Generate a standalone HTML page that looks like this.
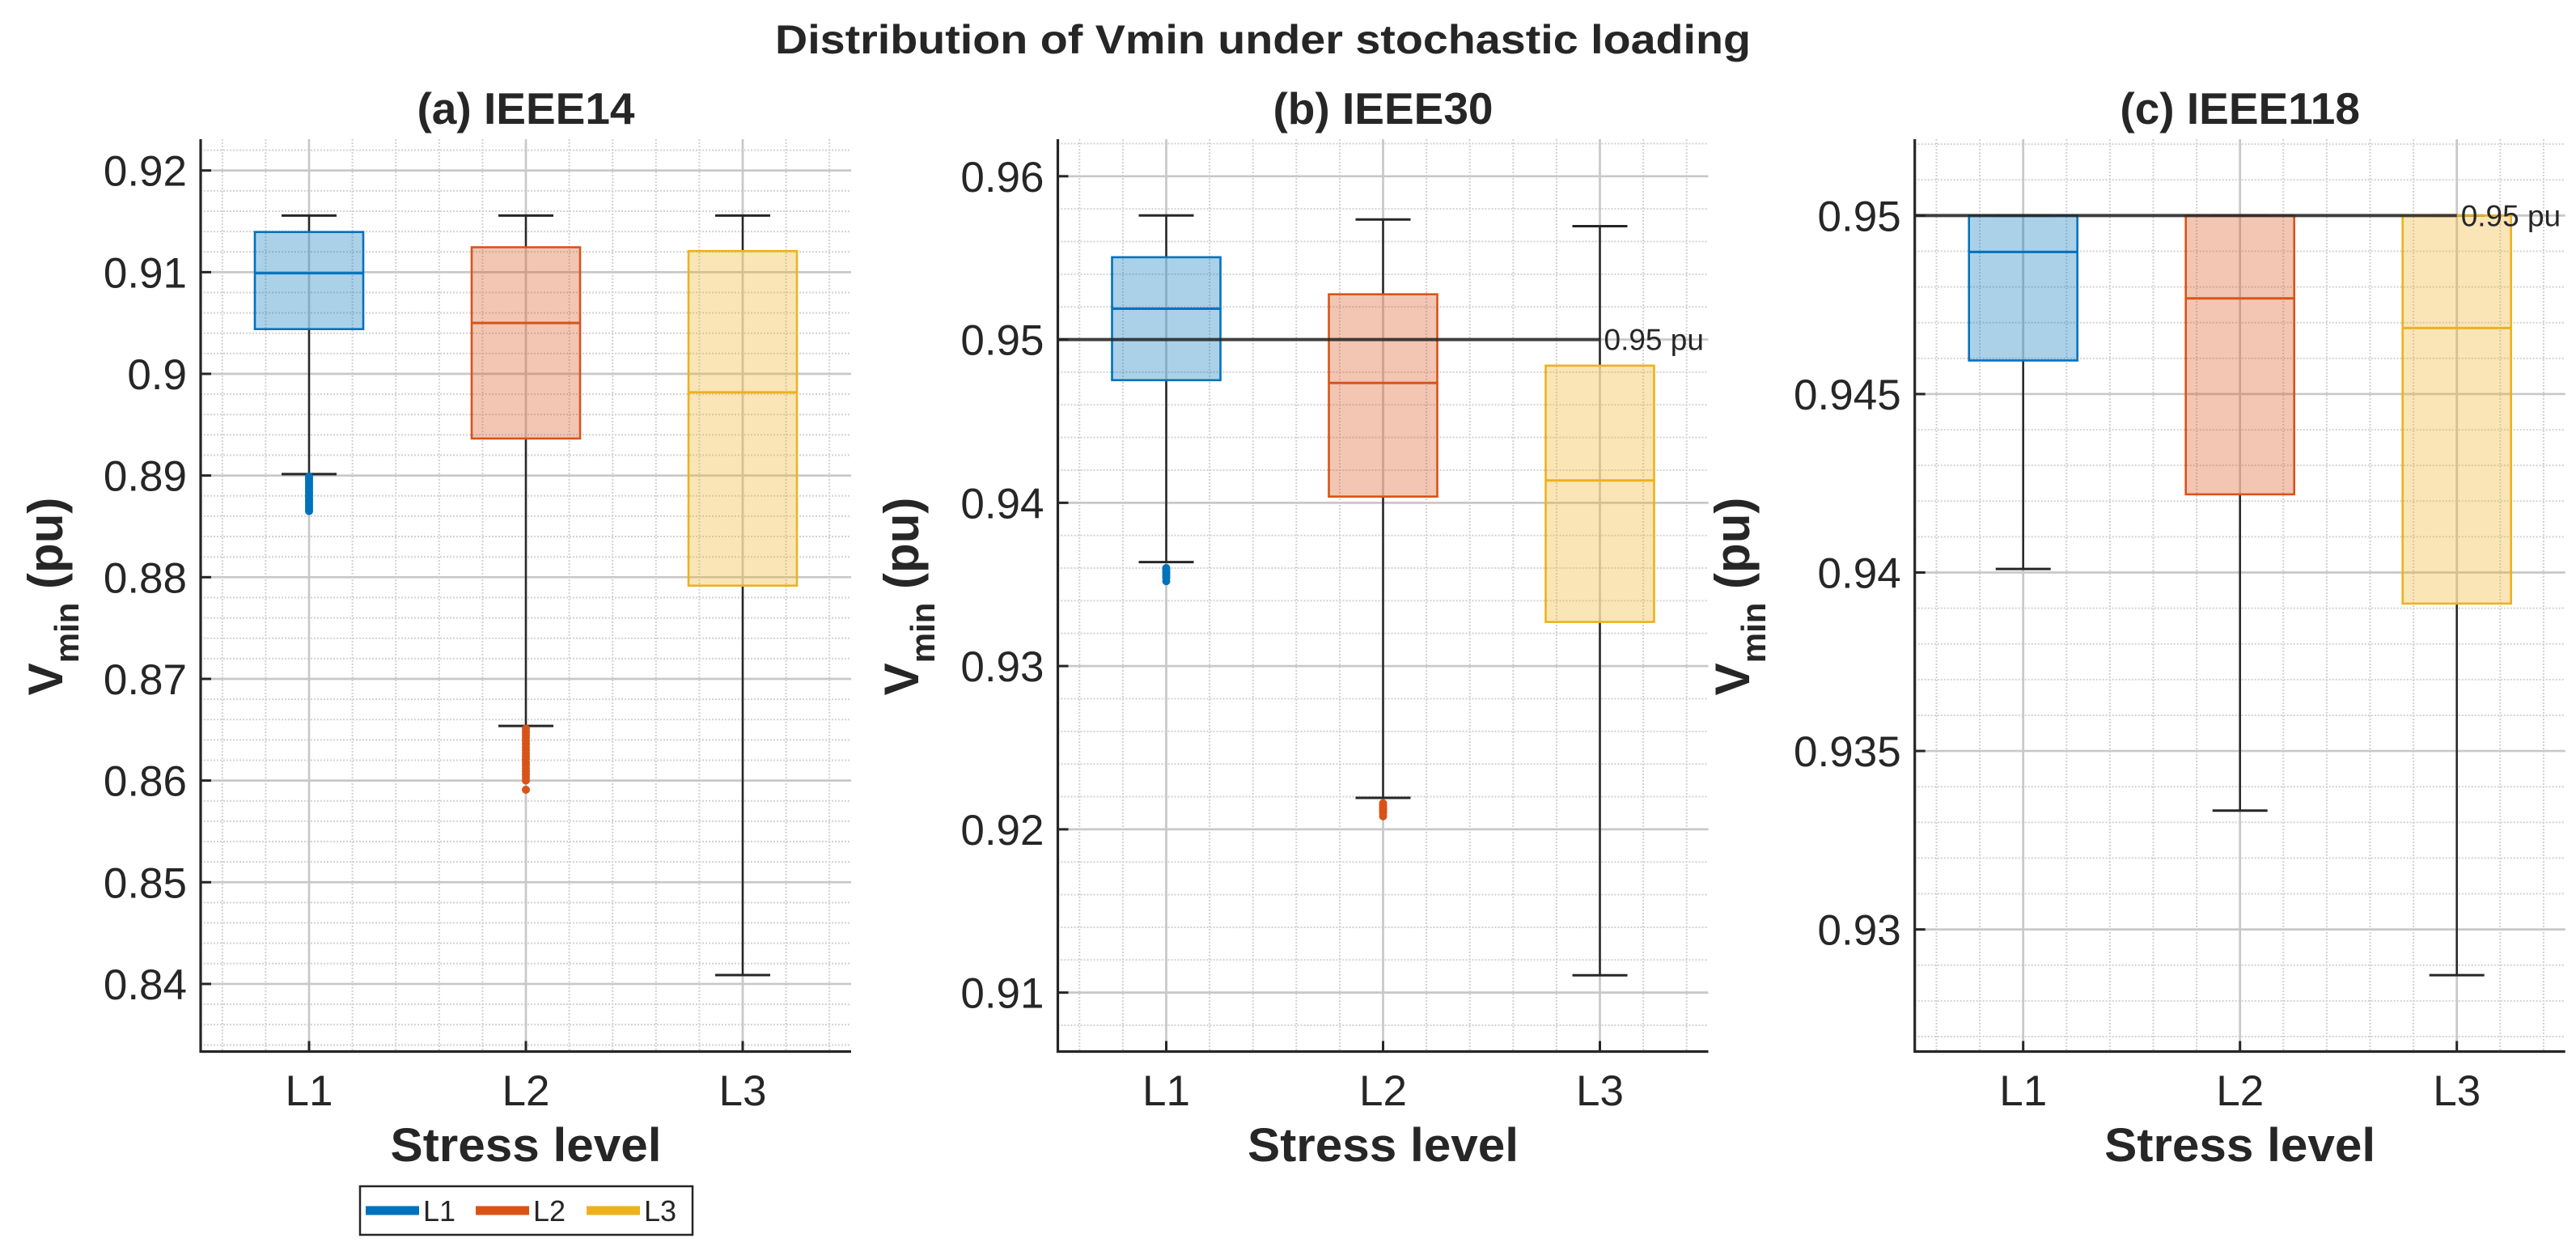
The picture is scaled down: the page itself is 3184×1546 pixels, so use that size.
<!DOCTYPE html>
<html><head><meta charset="utf-8"><style>
html,body{margin:0;padding:0;background:#fff}
svg{display:block}
text{font-family:"Liberation Sans",Arial,sans-serif;fill:#262626}
</style></head><body>
<svg id="fig" width="3184" height="1546" viewBox="0 0 3184 1546" xmlns="http://www.w3.org/2000/svg">
<text x="1561" y="66" font-size="50" font-weight="bold" text-anchor="middle" textLength="1206" lengthAdjust="spacingAndGlyphs">Distribution of Vmin under stochastic loading</text>
<g id="panels"></g>
<g>
<rect x="445" y="1466" width="411" height="60" fill="#fff" stroke="#262626" stroke-width="2.5"/>
<line x1="452" y1="1496" x2="518" y2="1496" stroke="#0072BD" stroke-width="11"/>
<text x="523" y="1509" font-size="36">L1</text>
<line x1="588" y1="1496" x2="654" y2="1496" stroke="#D95319" stroke-width="11"/>
<text x="659" y="1509" font-size="36">L2</text>
<line x1="725" y1="1496" x2="791" y2="1496" stroke="#EDB120" stroke-width="11"/>
<text x="796" y="1509" font-size="36">L3</text>
</g>
</svg>
<script>
const categories = ["L1","L2","L3"];
const colors = ["#0072BD","#D95319","#EDB120"];
// Panel (a) IEEE14
const aUpper = [0.91557,0.91557,0.91557];
const aQ3 = [0.91395,0.91245,0.91208];
const aMedian = [0.9099,0.9050,0.89818];
const aQ1 = [0.9044,0.89364,0.87917];
const aLower = [0.89014,0.86537,0.84087];
const aOutL1 = [0.8899,0.8897,0.8895,0.8893,0.8891,0.8889,0.8887,0.8885,0.8883,0.8881,0.8879,0.8877,0.8875,0.8873,0.8871,0.8869,0.8867,0.8865];
const aOutL2 = [0.8651,0.8648,0.8645,0.8642,0.8639,0.8636,0.8633,0.8630,0.8627,0.8624,0.8621,0.8618,0.8615,0.8612,0.8609,0.8606,0.8603,0.8600,0.8591];
const aOutL3 = [];
const aTicks = [0.84,0.85,0.86,0.87,0.88,0.89,0.90,0.91,0.92];
const aTickLabels = ["0.84","0.85","0.86","0.87","0.88","0.89","0.9","0.91","0.92"];
// Panel (b) IEEE30
const bUpper = [0.9576,0.95735,0.95694];
const bQ3 = [0.95504,0.95277,0.9484];
const bMedian = [0.95189,0.94734,0.94137];
const bQ1 = [0.94751,0.94038,0.9327];
const bLower = [0.93637,0.92193,0.91106];
const bOutL1 = [0.9360,0.9359,0.9358,0.9357,0.9356,0.9355,0.9354,0.9352];
const bOutL2 = [0.9216,0.9215,0.9214,0.9213,0.9212,0.9211,0.9210,0.9208];
const bOutL3 = [];
const bTicks = [0.91,0.92,0.93,0.94,0.95,0.96];
const bTickLabels = ["0.91","0.92","0.93","0.94","0.95","0.96"];
// Panel (c) IEEE118
const cUpper = [0.95,0.95,0.95];
const cQ3 = [0.95,0.95,0.95];
const cMedian = [0.94898,0.94768,0.94685];
const cQ1 = [0.94594,0.94219,0.93913];
const cLower = [0.9401,0.93333,0.92872];
const cTicks = [0.93,0.935,0.94,0.945,0.95];
const cTickLabels = ["0.93","0.935","0.94","0.945","0.95"];
const refValue = 0.95;
const refLabel = "0.95 pu";

const NS = "http://www.w3.org/2000/svg";
const root = document.getElementById("panels");
function mk(tag, attrs, parent){
  const e = document.createElementNS(NS, tag);
  for (const k in attrs) e.setAttribute(k, attrs[k]);
  (parent||root).appendChild(e);
  return e;
}
function panel(cfg){
  const g = mk("g", {});
  
  
  const L = cfg.left, R = cfg.left + 804, T = 172, B = 1299.5;
  const xs = v => L + (v - 0.5) / 3 * (R - L);
  const ys = v => B - (v - cfg.ymin) / (cfg.ymax - cfg.ymin) * (B - T);
  // minor grid
  for (let v = 0.6; v < 3.45; v += 0.2) {
    if (Math.abs(v - Math.round(v)) < 1e-6) continue;
    const l = mk("line", {x1: xs(v), x2: xs(v), y1: T, y2: B, stroke: "#d2d2d2", "stroke-width": 2, "stroke-dasharray": "2 2"}, g);
    
    
  }
  const nMinor = Math.round((cfg.ymax - cfg.ymin) / cfg.minor) + 2;
  const start = Math.ceil(cfg.ymin / cfg.minor - 1e-6);
  for (let i = 0; i < nMinor; i++) {
    const v = (start + i) * cfg.minor;
    if (v > cfg.ymax) break;
    const l = mk("line", {x1: L, x2: R, y1: ys(v), y2: ys(v), stroke: "#d2d2d2", "stroke-width": 2, "stroke-dasharray": "2 2"}, g);
    
    
  }
  // major grid
  categories.forEach((c, i) => {
    const l = mk("line", {x1: xs(i + 1), x2: xs(i + 1), y1: T, y2: B, stroke: "#c8c8c8", "stroke-width": 2.7}, g);
    
    
  });
  cfg.ticks.forEach((v, i) => {
    const l = mk("line", {x1: L, x2: R, y1: ys(v), y2: ys(v), stroke: "#c8c8c8", "stroke-width": 2.7}, g);
    
    
    const tk = mk("line", {x1: L, x2: L + 13, y1: ys(v), y2: ys(v), stroke: "#262626", "stroke-width": 3}, g);
    
    
    const t = mk("text", {x: L - 17, y: ys(v) + 19, "font-size": 53, "text-anchor": "end"}, g);
    
    
    t.textContent = cfg.tickLabels[i];
  });
  // boxes
  categories.forEach((c, i) => {
    const x = xs(i + 1), hw = 67, cw = 34, col = colors[i];
    const bg = mk("g", {}, g);
    
    
    const w1 = mk("line", {x1: x, x2: x, y1: ys(cfg.upper[i]), y2: ys(cfg.q3[i]), stroke: "#262626", "stroke-width": 2.5}, bg);
    
    
    const w2 = mk("line", {x1: x, x2: x, y1: ys(cfg.q1[i]), y2: ys(cfg.lower[i]), stroke: "#262626", "stroke-width": 2.5}, bg);
    
    
    const c1 = mk("line", {x1: x - cw, x2: x + cw, y1: ys(cfg.upper[i]), y2: ys(cfg.upper[i]), stroke: "#262626", "stroke-width": 3}, bg);
    
    
    const c2 = mk("line", {x1: x - cw, x2: x + cw, y1: ys(cfg.lower[i]), y2: ys(cfg.lower[i]), stroke: "#262626", "stroke-width": 3}, bg);
    
    
    const r = mk("rect", {x: x - hw, y: ys(cfg.q3[i]), width: 2 * hw, height: ys(cfg.q1[i]) - ys(cfg.q3[i]), fill: col, "fill-opacity": 0.33, stroke: col, "stroke-width": 2.6}, bg);
    
    
    const m = mk("line", {x1: x - hw, x2: x + hw, y1: ys(cfg.median[i]), y2: ys(cfg.median[i]), stroke: col, "stroke-width": 3}, bg);
    
    
    (cfg.outliers[i] || []).forEach(v => {
      const p = mk("circle", {cx: x, cy: ys(v), r: 5, fill: col}, bg);
      
      
    });
    const xt = mk("line", {x1: x, x2: x, y1: B, y2: B - 13, stroke: "#262626", "stroke-width": 3}, g);
    
    
    const xl = mk("text", {x: x, y: 1366, "font-size": 53, "text-anchor": "middle"}, g);
    
    
    xl.textContent = c;
  });
  if (cfg.ref) {
    const rl = mk("line", {x1: L, x2: xs(3), y1: ys(refValue), y2: ys(refValue), stroke: "#262626", "stroke-width": 4, "stroke-opacity": 0.85}, g);
    
    
    const rt = mk("text", {x: xs(3) + 5, y: ys(refValue) + 13, "font-size": 37, fill: "#000"}, g);
    
    
    rt.textContent = refLabel;
  }
  // axes
  const ax = mk("path", {d: `M${L},${T} L${L},${B} L${R},${B}`, fill: "none", stroke: "#262626", "stroke-width": 3.2}, g);
  
  
  const tt = mk("text", {x: xs(2), y: 153, "font-size": 55, "font-weight": "bold", "text-anchor": "middle"}, g);
  
  
  tt.textContent = cfg.title;
  const xa = mk("text", {x: xs(2), y: 1435, "font-size": 58, "font-weight": "bold", "text-anchor": "middle", textLength: 335, lengthAdjust: "spacingAndGlyphs"}, g);
  
  
  xa.textContent = "Stress level";
  const ya = mk("text", {transform: `translate(${cfg.ylx},737) rotate(-90)`, "font-size": 60, "font-weight": "bold", "text-anchor": "middle"}, g);
  
  
  const s1 = mk("tspan", {}, ya); s1.textContent = "V";
  const s2 = mk("tspan", {"font-size": 42, dy: 20}, ya); s2.textContent = "min";
  const s3 = mk("tspan", {dy: -20}, ya); s3.textContent = " (pu)";
}
panel({name: "panel-ieee14", title: "(a) IEEE14", left: 248, ymin: 0.83335, ymax: 0.92308, minor: 0.002,
  ticks: aTicks, tickLabels: aTickLabels, upper: aUpper, q3: aQ3, median: aMedian, q1: aQ1, lower: aLower,
  outliers: [aOutL1, aOutL2, aOutL3], ref: false, ylx: 77});
panel({name: "panel-ieee30", title: "(b) IEEE30", left: 1307.5, ymin: 0.90639, ymax: 0.96227, minor: 0.002,
  ticks: bTicks, tickLabels: bTickLabels, upper: bUpper, q3: bQ3, median: bMedian, q1: bQ1, lower: bLower,
  outliers: [bOutL1, bOutL2, bOutL3], ref: true, ylx: 1135});
panel({name: "panel-ieee118", title: "(c) IEEE118", left: 2366.7, ymin: 0.92658, ymax: 0.95214, minor: 0.001,
  ticks: cTicks, tickLabels: cTickLabels, upper: cUpper, q3: cQ3, median: cMedian, q1: cQ1, lower: cLower,
  outliers: [[], [], []], ref: true, ylx: 2162});
</script>
</body></html>
